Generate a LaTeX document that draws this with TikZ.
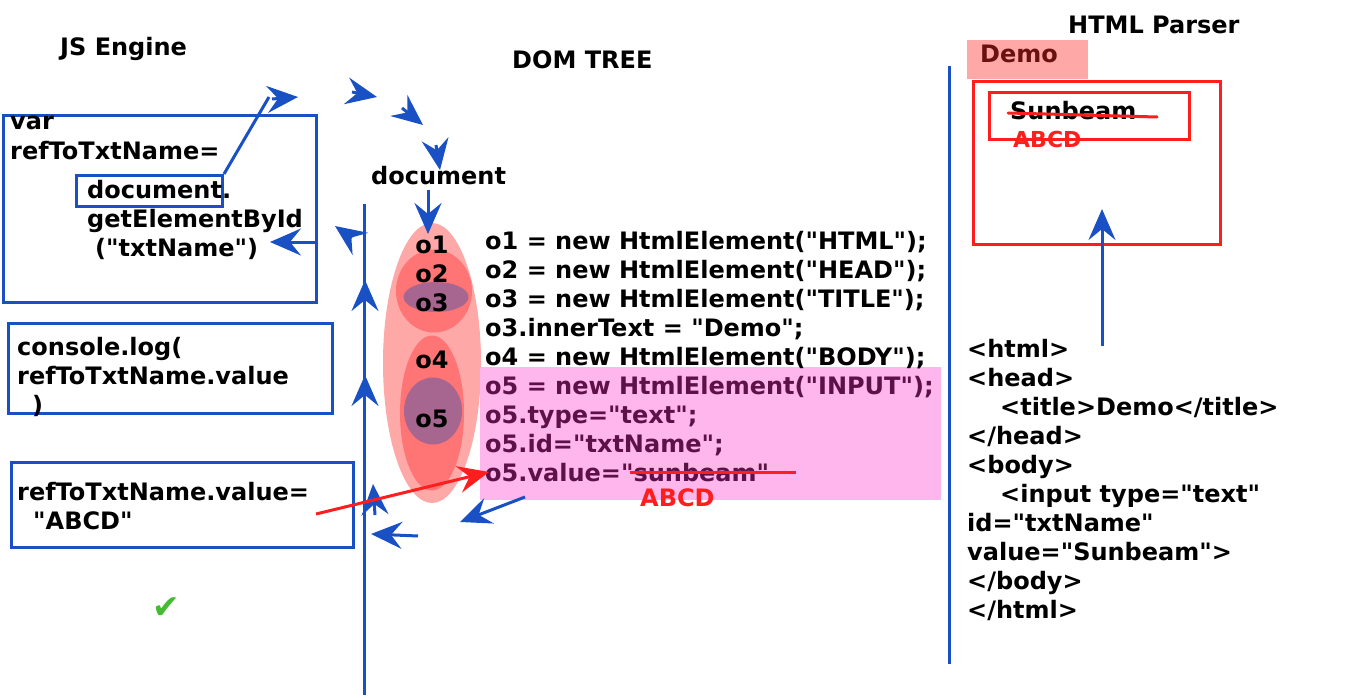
\documentclass[tikz,border=0pt]{standalone}
\usepackage{fontspec}
\setmainfont{DejaVu Sans}[Ligatures=TeXOff]
\newfontfamily\symfont{DejaVu Sans}
\usetikzlibrary{arrows.meta,shapes.geometric}
\definecolor{penblue}{RGB}{25,80,196}
\definecolor{penred}{RGB}{255,30,30}
\definecolor{lpink}{RGB}{255,168,168}
\definecolor{salmon}{RGB}{255,116,116}
\definecolor{mauve}{RGB}{166,102,144}
\definecolor{hlpink}{RGB}{255,182,236}
\definecolor{dpurple}{RGB}{94,16,72}
\definecolor{dred}{RGB}{106,16,16}
\definecolor{okgreen}{RGB}{68,187,51}
\tikzset{
  txt/.style={anchor=base west, inner sep=0pt, font=\fontsize{24bp}{29bp}\selectfont\bfseries},
  ctxt/.style={anchor=base, inner sep=0pt, font=\fontsize{24bp}{29bp}\selectfont\bfseries},
  bluebox/.style={draw=penblue, line width=3bp},
  redbox/.style={draw=penred, line width=3bp},
  penline/.style={draw=penblue, line width=3bp},
  pen/.style={draw=penblue, line width=3bp, -{Stealth[length=31bp,width=27bp,inset=11bp]}},
  redpen/.style={draw=penred, line width=3bp, -{Stealth[length=31bp,width=27bp,inset=11bp]}},
  blob/.style={ellipse, inner sep=0pt, draw=none},
}
\begin{document}
\begin{tikzpicture}[x=1bp,y=-1bp]
\useasboundingbox (0,0) rectangle (1366,697);
% titles
\node[txt] (jst) at (60,56) {JS Engine};
\node[txt] (domt) at (512,69) {DOM TREE};
\node[txt] (htmlt) at (1068,34) {HTML Parser};

% JS engine boxes
\node[bluebox, inner sep=0pt, minimum width=313bp, minimum height=187bp, anchor=north west] (box1) at (2,114) {};
\node[txt] (v1) at (10,130) {var};
\node[txt] (v2) at (10,159) {refToTxtName=};
\node[bluebox, inner sep=0pt, minimum width=146bp, minimum height=31bp, anchor=north west] (docbox) at (75,174) {};
\node[txt] (v3) at (87,198) {document.};
\node[txt] (v4) at (87,227) {getElementById};
\node[txt] (v5) at (95,256) {("txtName")};

\node[bluebox, inner sep=0pt, minimum width=324bp, minimum height=90bp, anchor=north west] (box2) at (7,322) {};
\node[txt] (c1) at (17,355) {console.log(};
\node[txt] (c2) at (17,384) {refToTxtName.value};
\node[txt] (c3) at (32,413) {)};

\node[bluebox, inner sep=0pt, minimum width=342bp, minimum height=85bp, anchor=north west] (box3) at (10,461) {};
\node[txt] (a1) at (17,500) {refToTxtName.value=};
\node[txt] (a2) at (33,529) {"ABCD"};

\node[anchor=center, inner sep=0pt, text=okgreen, font=\symfont\fontsize{33bp}{33bp}\selectfont] (chk) at (166,608) {✔};

% DOM tree blobs
\node[blob, fill=lpink, minimum width=98bp, minimum height=280bp] (dom) at (432,363) {};
\node[blob, fill=salmon, minimum width=76bp, minimum height=83bp] (head) at (434,291) {};
\node[blob, fill=mauve, minimum width=65bp, minimum height=30bp] (title) at (436,297) {};
\node[blob, fill=salmon, minimum width=64bp, minimum height=155bp] (body) at (432,413) {};
\node[blob, fill=mauve, minimum width=58bp, minimum height=67bp] (inp) at (433,411) {};
\node[ctxt] (o1) at (432,253) {o1};
\node[ctxt] (o2) at (432,282) {o2};
\node[ctxt] (o3) at (432,311) {o3};
\node[ctxt] (o4) at (432,368) {o4};
\node[ctxt] (o5) at (432,427) {o5};

\node[txt] (docl) at (371,184) {document};

% code
\fill[hlpink] (480,367) rectangle (941,500);
\node[txt] (l1) at (485,249) {o1 = new HtmlElement("HTML");};
\node[txt] (l2) at (485,278) {o2 = new HtmlElement("HEAD");};
\node[txt] (l3) at (485,307) {o3 = new HtmlElement("TITLE");};
\node[txt] (l4) at (485,336) {o3.innerText = "Demo";};
\node[txt] (l5) at (485,365) {o4 = new HtmlElement("BODY");};
\node[txt, text=dpurple] (l6) at (485,394) {o5 = new HtmlElement("INPUT");};
\node[txt, text=dpurple] (l7) at (485,423) {o5.type="text";};
\node[txt, text=dpurple] (l8) at (485,452) {o5.id="txtName";};
\node[txt, text=dpurple] (l9) at (485,481) {o5.value="sunbeam"};
\coordinate (s1a) at (630,472);
\coordinate (s1b) at (796,472);
\draw[penred, line width=3bp] (s1a) -- (s1b);
\node[txt, text=penred] (abcd1) at (640,506) {ABCD};

% vertical separators
\coordinate (va) at (364,204);
\coordinate (vb) at (364,695);
\draw[penline] (va) -- (vb);
\coordinate (wa) at (949,66);
\coordinate (wb) at (949,664);
\draw[penline] (wa) -- (wb);

% HTML parser side
\fill[lpink] (967,40) rectangle (1088,79);
\node[txt, text=dred] (demo) at (980,63) {Demo};
\node[redbox, inner sep=0pt, minimum width=247bp, minimum height=163bp, anchor=north west] (page) at (972,80) {};
\node[redbox, inner sep=0pt, minimum width=200bp, minimum height=47bp, anchor=north west] (tb) at (988,91) {};
\node[txt] (sb) at (1010,120) {Sunbeam};
\coordinate (s2a) at (1008,113);
\coordinate (s2b) at (1157,117);
\draw[penred, line width=3bp, line cap=round] (s2a) -- (s2b);
\node[txt, text=penred, font=\fontsize{22bp}{22bp}\selectfont\bfseries] (abcd2) at (1013,147) {ABCD};

\node[txt] (h1) at (967,357) {<html>};
\node[txt] (h2) at (967,386) {<head>};
\node[txt] (h3) at (1000,415) {<title>Demo</title>};
\node[txt] (h4) at (967,444) {</head>};
\node[txt] (h5) at (967,473) {<body>};
\node[txt] (h6) at (1000,502) {<input type="text"};
\node[txt] (h7) at (967,531) {id="txtName"};
\node[txt] (h8) at (967,560) {value="Sunbeam">};
\node[txt] (h9) at (967,589) {</body>};
\node[txt] (h10) at (967,618) {</html>};

\coordinate (pa) at (1102,346);
\coordinate (pb) at (1102,209);
\draw[pen] (pa) -- (pb);

% pen strokes around JS engine / DOM
\coordinate (q1) at (269,97);
\draw[penline] (docbox.north east) -- (q1);
\coordinate (t1a) at (272,99);
\coordinate (t1b) at (298,97);
\draw[pen] (t1a) -- (t1b);
\coordinate (t2a) at (352,92);
\coordinate (t2b) at (377,97);
\draw[pen] (t2a) -- (t2b);
\coordinate (t3a) at (402,108);
\coordinate (t3b) at (423,125);
\draw[pen] (t3a) -- (t3b);
\coordinate (t4a) at (436,145);
\coordinate (t4b) at (440,170);
\draw[pen] (t4a) -- (t4b);

\coordinate (da) at (428,190);
\coordinate (db) at (428,234);
\draw[pen] (da) -- (db);

\coordinate (la) at (318,242);
\coordinate (lb) at (270,242);
\draw[pen] (la) -- (lb);
\coordinate (ua) at (352,238);
\coordinate (ub) at (335,226);
\draw[pen] (ua) -- (ub);

\coordinate (u1a) at (365,300);
\coordinate (u1b) at (365,280);
\draw[pen] (u1a) -- (u1b);
\coordinate (u2a) at (365,395);
\coordinate (u2b) at (365,375);
\draw[pen] (u2a) -- (u2b);
\coordinate (u3a) at (375,515);
\coordinate (u3b) at (373,484);
\draw[pen] (u3a) -- (u3b);

\coordinate (ba) at (418,536);
\coordinate (bb) at (371,534);
\draw[pen] (ba) -- (bb);
\coordinate (ca) at (525,497);
\coordinate (cb) at (460,522);
\draw[pen] (ca) -- (cb);

\coordinate (ra) at (316,514);
\coordinate (rb) at (489,472);
\draw[redpen] (ra) -- (rb);
\end{tikzpicture}
\end{document}
